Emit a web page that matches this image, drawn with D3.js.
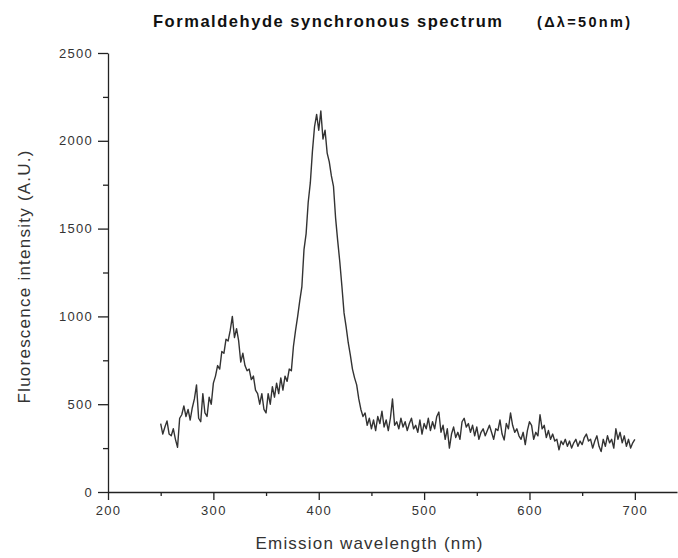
<!DOCTYPE html>
<html>
<head>
<meta charset="utf-8">
<script src="https://cdn.jsdelivr.net/npm/d3@7"></script>
<style>
  body { margin: 0; background: #fff; }
  svg { display: block; font-family: "Liberation Sans", Arial, sans-serif; }
  .axis path, .axis line { stroke: #222; stroke-width: 1.3; }
  .axis text { fill: #333; font-size: 13px; letter-spacing: 1.3px; }
</style>
</head>
<body>
<div id="chart"></div>
<script>
// spectrum, 250..700 nm every 2 nm
const startNm = 250;
const stepNm = 2;
const intensity = [
  390, 330, 370, 405, 330, 320, 360, 300, 255, 420,
  440, 490, 430, 470, 410, 480, 530, 610, 420, 400,
  560, 450, 430, 540, 500, 620, 660, 720, 700, 800,
  790, 870, 860, 920, 1000, 880, 930, 860, 740, 790,
  720, 690, 700, 640, 660, 580, 560, 500, 560, 470,
  450, 560, 500, 600, 540, 620, 560, 650, 580, 660,
  630, 700, 690, 830, 920, 1000, 1090, 1170, 1380, 1470,
  1650, 1760, 1940, 2080, 2150, 2060, 2170, 2010, 2060, 1930,
  1880, 1800, 1740, 1560, 1430, 1310, 1170, 1020, 940, 850,
  780, 700, 650, 610, 530, 470, 430, 450, 380, 420,
  360, 410, 350, 430, 390, 460, 370, 410, 350, 420,
  530, 380, 400, 360, 420, 370, 400, 350, 390, 420,
  360, 380, 340, 410, 330, 390, 360, 420, 350, 400,
  360, 430, 455, 340, 380, 300, 360, 250, 330, 370,
  310, 340, 300, 400, 420, 370, 390, 340, 380, 320,
  370, 300, 340, 360, 320, 350, 380, 340, 300, 360,
  350, 410, 330, 296, 390, 360, 450, 380, 340, 360,
  320, 300, 340, 270, 350, 400, 380, 300, 340, 320,
  440, 360, 380, 310, 350, 300, 330, 290, 300, 240,
  290, 270, 300, 260, 290, 250, 280, 300, 260, 290,
  270, 310, 330, 290, 300, 250, 290, 320, 260, 230,
  300, 260, 320, 280, 300, 250, 360, 300, 340, 280,
  320, 260, 300, 250, 280, 300
];
const xTicks = [200, 300, 400, 500, 600, 700];
const xMinorTicks = [250, 350, 450, 550, 650];
const yTicks = [0, 500, 1000, 1500, 2000, 2500];
const yMinorTicks = [250, 750, 1250, 1750, 2250];

const data = intensity.map((v, i) => ({ nm: startNm + i * stepNm, v: v }));

const W = 678, H = 558;
const plot = { left: 108, right: 677, top: 53, bottom: 492 };

const svg = d3.select('#chart').append('svg')
    .attr('width', W)
    .attr('height', H);

const x = d3.scaleLinear().domain([200, 740]).range([plot.left, plot.right]);
const y = d3.scaleLinear().domain([0, 2500]).range([plot.bottom, plot.top]);

// minor ticks first, then major axes on top
svg.append('g')
    .attr('class', 'axis')
    .attr('transform', `translate(0,${plot.bottom})`)
    .call(d3.axisBottom(x).tickValues(xMinorTicks).tickSize(4).tickFormat(''))
    .select('.domain').remove();

svg.append('g')
    .attr('class', 'axis')
    .attr('transform', `translate(${plot.left},0)`)
    .call(d3.axisLeft(y).tickValues(yMinorTicks).tickSize(5).tickFormat(''))
    .select('.domain').remove();

svg.append('g')
    .attr('class', 'axis')
    .attr('transform', `translate(0,${plot.bottom})`)
    .call(d3.axisBottom(x).tickValues(xTicks).tickFormat(d3.format('d'))
        .tickSize(8).tickSizeOuter(0).tickPadding(6));

svg.append('g')
    .attr('class', 'axis')
    .attr('transform', `translate(${plot.left},0)`)
    .call(d3.axisLeft(y).tickValues(yTicks).tickFormat(d3.format('d'))
        .tickSize(10).tickSizeOuter(0).tickPadding(5));

const line = d3.line()
    .x(d => x(d.nm))
    .y(d => y(d.v));

svg.append('path')
    .datum(data)
    .attr('fill', 'none')
    .attr('stroke', '#333')
    .attr('stroke-width', 1.4)
    .attr('stroke-linejoin', 'round')
    .attr('d', line);

// titles
svg.append('text')
    .attr('x', 153)
    .attr('y', 27)
    .attr('font-size', 16.5)
    .attr('font-weight', 'bold')
    .attr('fill', '#111')
    .attr('textLength', 349)
    .attr('lengthAdjust', 'spacing')
    .text('Formaldehyde synchronous spectrum');

svg.append('text')
    .attr('x', 537)
    .attr('y', 27)
    .attr('font-size', 14.5)
    .attr('font-weight', 'bold')
    .attr('fill', '#111')
    .attr('textLength', 93)
    .attr('lengthAdjust', 'spacing')
    .text('(Δλ=50nm)');

svg.append('text')
    .attr('x', 369)
    .attr('y', 549)
    .attr('text-anchor', 'middle')
    .attr('font-size', 17)
    .attr('fill', '#333')
    .attr('textLength', 227)
    .attr('lengthAdjust', 'spacing')
    .text('Emission wavelength (nm)');

svg.append('text')
    .attr('transform', 'translate(30,277) rotate(-90)')
    .attr('text-anchor', 'middle')
    .attr('font-size', 17)
    .attr('fill', '#333')
    .attr('textLength', 253)
    .attr('lengthAdjust', 'spacing')
    .text('Fluorescence intensity (A.U.)');
</script>
</body>
</html>
